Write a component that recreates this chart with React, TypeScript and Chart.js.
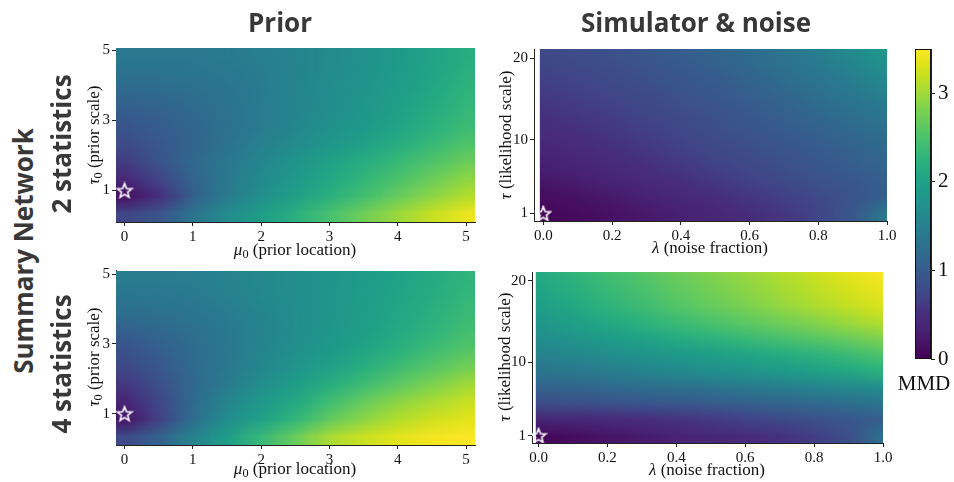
import React, { useEffect, useRef } from "react";
import { Chart, registerables } from "chart.js";

Chart.register(...registerables);

// ---------------- data ----------------
const priorMu0 = [0, 0.5, 1, 1.5, 2, 2.5, 3, 3.5, 4, 4.5, 5];
const priorTau0 = [4.85, 4.35, 3.85, 3.35, 2.85, 2.35, 1.85, 1.35, 0.85, 0.35];
const noiseLambda = [0, 0.1, 0.2, 0.3, 0.4, 0.5, 0.6, 0.7, 0.8, 0.9, 1.0];
const likelihoodTau = [21, 19, 17, 15, 13, 11, 9, 7, 5, 3, 1];

// rows follow priorTau0 (top to bottom), columns follow priorMu0
const mmdPrior2Stats = [
  [1.42, 1.40, 1.40, 1.44, 1.50, 1.57, 1.66, 1.77, 1.90, 2.04, 2.18],
  [1.30, 1.32, 1.35, 1.40, 1.47, 1.56, 1.67, 1.78, 1.92, 2.06, 2.22],
  [1.18, 1.20, 1.27, 1.36, 1.46, 1.57, 1.69, 1.81, 1.95, 2.10, 2.27],
  [1.05, 1.10, 1.20, 1.32, 1.45, 1.58, 1.71, 1.85, 2.00, 2.16, 2.32],
  [0.92, 1.02, 1.15, 1.30, 1.45, 1.60, 1.75, 1.90, 2.05, 2.22, 2.38],
  [0.80, 0.95, 1.12, 1.32, 1.52, 1.68, 1.84, 2.00, 2.17, 2.35, 2.52],
  [0.65, 0.90, 1.18, 1.40, 1.60, 1.80, 2.00, 2.17, 2.35, 2.52, 2.70],
  [0.40, 0.72, 1.12, 1.42, 1.66, 1.88, 2.10, 2.30, 2.50, 2.70, 2.90],
  [0.15, 0.52, 1.08, 1.45, 1.74, 1.98, 2.22, 2.45, 2.68, 2.90, 3.10],
  [0.72, 0.92, 1.35, 1.68, 1.95, 2.22, 2.48, 2.74, 2.98, 3.20, 3.40],
];

const mmdPrior4Stats = [
  [1.45, 1.45, 1.48, 1.55, 1.63, 1.72, 1.82, 1.92, 2.03, 2.15, 2.28],
  [1.35, 1.38, 1.43, 1.52, 1.62, 1.72, 1.83, 1.94, 2.06, 2.18, 2.32],
  [1.22, 1.27, 1.35, 1.46, 1.58, 1.70, 1.82, 1.95, 2.08, 2.22, 2.37],
  [1.05, 1.15, 1.28, 1.42, 1.56, 1.70, 1.84, 1.98, 2.13, 2.28, 2.44],
  [0.88, 1.05, 1.22, 1.40, 1.57, 1.73, 1.90, 2.06, 2.22, 2.40, 2.56],
  [0.75, 0.95, 1.20, 1.42, 1.62, 1.82, 2.00, 2.20, 2.40, 2.58, 2.75],
  [0.60, 0.85, 1.18, 1.45, 1.72, 1.95, 2.18, 2.40, 2.62, 2.82, 3.00],
  [0.35, 0.75, 1.20, 1.58, 1.88, 2.12, 2.42, 2.68, 2.90, 3.05, 3.20],
  [0.20, 0.68, 1.25, 1.70, 2.00, 2.30, 2.65, 2.90, 3.10, 3.25, 3.35],
  [0.78, 1.10, 1.55, 1.95, 2.35, 2.70, 3.05, 3.22, 3.35, 3.45, 3.50],
];

// rows follow likelihoodTau (top to bottom), columns follow noiseLambda
const mmdSim2Stats = [
  [0.78, 0.82, 0.88, 0.95, 1.03, 1.12, 1.22, 1.35, 1.50, 1.68, 1.88],
  [0.72, 0.77, 0.83, 0.90, 0.98, 1.07, 1.17, 1.29, 1.43, 1.58, 1.75],
  [0.66, 0.71, 0.77, 0.84, 0.92, 1.00, 1.10, 1.21, 1.33, 1.47, 1.62],
  [0.60, 0.65, 0.71, 0.78, 0.86, 0.94, 1.03, 1.13, 1.24, 1.36, 1.50],
  [0.54, 0.59, 0.65, 0.72, 0.80, 0.88, 0.97, 1.06, 1.16, 1.27, 1.39],
  [0.47, 0.53, 0.59, 0.66, 0.74, 0.82, 0.90, 0.99, 1.08, 1.18, 1.28],
  [0.40, 0.46, 0.53, 0.60, 0.68, 0.76, 0.84, 0.92, 1.01, 1.10, 1.19],
  [0.32, 0.38, 0.45, 0.53, 0.61, 0.69, 0.77, 0.85, 0.94, 1.03, 1.12],
  [0.22, 0.28, 0.36, 0.44, 0.52, 0.60, 0.68, 0.77, 0.86, 0.96, 1.06],
  [0.12, 0.18, 0.25, 0.33, 0.41, 0.49, 0.58, 0.67, 0.77, 0.90, 1.08],
  [0.05, 0.10, 0.17, 0.24, 0.32, 0.40, 0.49, 0.59, 0.72, 0.95, 1.45],
];

const mmdSim4Stats = [
  [2.12, 2.27, 2.42, 2.56, 2.70, 2.83, 2.96, 3.09, 3.22, 3.35, 3.48],
  [2.05, 2.20, 2.35, 2.49, 2.63, 2.76, 2.89, 3.02, 3.15, 3.28, 3.40],
  [1.97, 2.12, 2.27, 2.41, 2.55, 2.68, 2.81, 2.94, 3.07, 3.19, 3.31],
  [1.85, 1.99, 2.12, 2.25, 2.38, 2.50, 2.62, 2.74, 2.86, 2.99, 3.12],
  [1.70, 1.81, 1.92, 2.03, 2.14, 2.25, 2.36, 2.47, 2.58, 2.70, 2.83],
  [1.55, 1.62, 1.70, 1.79, 1.88, 1.97, 2.06, 2.16, 2.26, 2.38, 2.52],
  [1.35, 1.41, 1.48, 1.56, 1.65, 1.73, 1.82, 1.91, 2.00, 2.12, 2.25],
  [1.10, 1.13, 1.17, 1.22, 1.27, 1.34, 1.42, 1.48, 1.55, 1.63, 1.72],
  [0.80, 0.84, 0.88, 0.92, 0.96, 1.00, 1.06, 1.12, 1.18, 1.25, 1.35],
  [0.38, 0.41, 0.45, 0.50, 0.56, 0.62, 0.70, 0.78, 0.86, 0.94, 1.05],
  [0.05, 0.12, 0.20, 0.27, 0.34, 0.40, 0.46, 0.54, 0.65, 0.85, 1.30],
];

const trueParamPrior = [{ x: 0, y: 1 }];
const trueParamSim = [{ x: 0, y: 1 }];

const priorXTicks = [0, 1, 2, 3, 4, 5];
const priorYTicks = [1, 3, 5];
const simXTicks = [0, 0.2, 0.4, 0.6, 0.8, 1.0];
const simYTicks = [1, 10, 20];
const mmdTicks = [0, 1, 2, 3];
const MMD_MIN = 0;
const MMD_MAX = 3.5;

// ---------------- colour map ----------------
const VIRIDIS = [
  "#440154", "#471365", "#482475", "#472f7d", "#414487", "#3b528b", "#355f8d",
  "#2e6d8e", "#2a788e", "#25858e", "#21918c", "#1e9c89", "#22a884", "#2fb47c",
  "#44bf70", "#5ec962", "#7ad151", "#9bd93c", "#bddf26", "#dfe318", "#fde725",
];
const hexToRgb = (h: string) => [
  parseInt(h.slice(1, 3), 16),
  parseInt(h.slice(3, 5), 16),
  parseInt(h.slice(5, 7), 16),
];
const VIR_RGB = VIRIDIS.map(hexToRgb);
function viridisRgb(t: number) {
  const tt = Math.max(0, Math.min(1, t));
  const f = tt * (VIR_RGB.length - 1);
  const i = Math.min(VIR_RGB.length - 2, Math.floor(f));
  const u = f - i;
  const a = VIR_RGB[i];
  const b = VIR_RGB[i + 1];
  return a.map((v, k) => Math.round(v + (b[k] - v) * u));
}

// ---------------- layout ----------------
const SERIF = '"Liberation Serif", "DejaVu Serif", "Times New Roman", serif';
const SANS = '"Open Sans", "Noto Sans", "DejaVu Sans", sans-serif';
const AXIS_COLOR = "#222";

type PanelCfg = {
  key: string;
  xs: number[];
  ys: number[];
  z: number[][];
  star: { x: number; y: number }[];
  xTicks: number[];
  yTicks: number[];
  xFmt: (v: number) => string;
  box: { l: number; t: number; r: number; b: number };
  xr: [number, number];
  yr: [number, number];
  heatX0: number;
};

const PANELS: PanelCfg[] = [
  {
    key: "prior2", xs: priorMu0, ys: priorTau0, z: mmdPrior2Stats, star: trueParamPrior,
    xTicks: priorXTicks, yTicks: priorYTicks, xFmt: (v) => String(v),
    box: { l: 116, t: 48, r: 475, b: 222 }, xr: [-0.125, 5.13], yr: [0.1, 5.07], heatX0: -0.125,
  },
  {
    key: "sim2", xs: noiseLambda, ys: likelihoodTau, z: mmdSim2Stats, star: trueParamSim,
    xTicks: simXTicks, yTicks: simYTicks, xFmt: (v) => v.toFixed(1),
    box: { l: 534, t: 49, r: 887, b: 221 }, xr: [-0.027, 1.0], yr: [0.09, 21.1], heatX0: -0.01,
  },
  {
    key: "prior4", xs: priorMu0, ys: priorTau0, z: mmdPrior4Stats, star: trueParamPrior,
    xTicks: priorXTicks, yTicks: priorYTicks, xFmt: (v) => String(v),
    box: { l: 116, t: 270, r: 475, b: 445 }, xr: [-0.125, 5.13], yr: [0.1, 5.12], heatX0: -0.125,
  },
  {
    key: "sim4", xs: noiseLambda, ys: likelihoodTau, z: mmdSim4Stats, star: trueParamSim,
    xTicks: simXTicks, yTicks: simYTicks, xFmt: (v) => v.toFixed(1),
    box: { l: 532, t: 272, r: 883, b: 443 }, xr: [-0.019, 1.0], yr: [0.1, 21.07], heatX0: -0.008,
  },
];

const WY = 44;
const HX = 26;
const PT = 12;
const PR = 16;

function makeStar() {
  const c = document.createElement("canvas");
  c.width = 18;
  c.height = 18;
  const g = c.getContext("2d")!;
  g.strokeStyle = "#ffffff";
  g.lineWidth = 1.6;
  g.lineJoin = "miter";
  g.beginPath();
  for (let i = 0; i < 10; i++) {
    const r = i % 2 === 0 ? 7.6 : 3.3;
    const a = -Math.PI / 2 + (i * Math.PI) / 5;
    const x = 9 + r * Math.cos(a);
    const y = 9.6 + r * Math.sin(a);
    if (i === 0) g.moveTo(x, y);
    else g.lineTo(x, y);
  }
  g.closePath();
  g.stroke();
  return c;
}

// heat cells: one texel per value, placed with the chart's scales and drawn with
// bilinear image smoothing (like imshow's interpolation)
function heatPlugin(cfg: PanelCfg) {
  return {
    id: "heat_" + cfg.key,
    beforeDatasetsDraw(chart: any) {
      const { ctx, chartArea: ca, scales } = chart;
      const sx = scales.x;
      const sy = scales.y;
      const rows = cfg.z.length;
      const cols = cfg.z[0].length;
      const off = document.createElement("canvas");
      off.width = cols;
      off.height = rows;
      const g = off.getContext("2d")!;
      const img = g.createImageData(cols, rows);
      cfg.z.forEach((row, ri) =>
        row.forEach((v, ci) => {
          const c = viridisRgb((v - MMD_MIN) / (MMD_MAX - MMD_MIN));
          const k = (ri * cols + ci) * 4;
          img.data[k] = c[0];
          img.data[k + 1] = c[1];
          img.data[k + 2] = c[2];
          img.data[k + 3] = 255;
        })
      );
      g.putImageData(img, 0, 0);
      const dx = Math.abs(cfg.xs[1] - cfg.xs[0]);
      const dy = Math.abs(cfg.ys[1] - cfg.ys[0]);
      const x0 = sx.getPixelForValue(cfg.xs[0] - dx / 2);
      const x1 = sx.getPixelForValue(cfg.xs[cols - 1] + dx / 2);
      const y0 = sy.getPixelForValue(cfg.ys[0] + dy / 2);
      const y1 = sy.getPixelForValue(cfg.ys[rows - 1] - dy / 2);
      const clipL = Math.max(ca.left, sx.getPixelForValue(cfg.heatX0));
      ctx.save();
      ctx.beginPath();
      ctx.rect(clipL, ca.top, ca.right - clipL, ca.bottom - ca.top);
      ctx.clip();
      ctx.imageSmoothingEnabled = true;
      ctx.imageSmoothingQuality = "low";
      ctx.drawImage(off, x0, y0, x1 - x0, y1 - y0);
      ctx.restore();
    },
  };
}

function axisCommon(ticks: number[], fmt: (v: number) => string, fixSize: (s: any) => void) {
  return {
    type: "linear" as const,
    z: 1,
    afterBuildTicks: (s: any) => {
      s.ticks = ticks.map((value) => ({ value }));
    },
    afterFit: (s: any) => {
      fixSize(s);
      s.paddingLeft = 0;
      s.paddingRight = 0;
      s.paddingTop = 0;
      s.paddingBottom = 0;
    },
    ticks: {
      callback: (v: any) => fmt(Number(v)),
      font: { family: SERIF, size: 15 },
      color: "#111",
      autoSkip: false,
      maxRotation: 0,
      minRotation: 0,
      padding: 2,
    },
    grid: { drawOnChartArea: false, drawTicks: true, tickLength: 4, color: AXIS_COLOR, lineWidth: 1 },
    border: { display: true, color: AXIS_COLOR, width: 1 },
  };
}

function HeatPanel({ cfg }: { cfg: PanelCfg }) {
  const ref = useRef<HTMLCanvasElement>(null);
  const { l, t, r, b } = cfg.box;
  const cw = WY + (r - l) + PR;
  const ch = PT + (b - t) + HX;
  useEffect(() => {
    const chart = new Chart(ref.current!, {
      type: "scatter",
      data: {
        datasets: [
          {
            data: cfg.star,
            pointStyle: makeStar() as any,
            pointRadius: 9,
            pointHoverRadius: 9,
          },
        ],
      },
      options: {
        animation: false,
        responsive: false,
        devicePixelRatio: 1,
        events: [],
        layout: { padding: { top: PT, right: PR, left: 0, bottom: 0 } },
        plugins: { legend: { display: false }, tooltip: { enabled: false } },
        scales: {
          x: {
            ...axisCommon(cfg.xTicks, cfg.xFmt, (s) => (s.height = HX)),
            min: cfg.xr[0],
            max: cfg.xr[1],
          },
          y: {
            ...axisCommon(cfg.yTicks, (v) => String(v), (s) => (s.width = WY)),
            min: cfg.yr[0],
            max: cfg.yr[1],
          },
        },
      } as any,
      plugins: [heatPlugin(cfg)],
    });
    return () => chart.destroy();
  }, []);
  return (
    <canvas
      ref={ref}
      width={cw}
      height={ch}
      style={{ position: "absolute", left: l - WY, top: t - PT, width: cw, height: ch }}
    />
  );
}

function Colorbar() {
  const ref = useRef<HTMLCanvasElement>(null);
  const L = 915, T = 49, R = 931, B = 359;
  const PL = 10, AW = 34, PTB = 14;
  const cw = PL + (R - L) + AW;
  const ch = PTB + (B - T) + PTB;
  useEffect(() => {
    const chart = new Chart(ref.current!, {
      type: "scatter",
      data: { datasets: [] },
      options: {
        animation: false,
        responsive: false,
        devicePixelRatio: 1,
        events: [],
        layout: { padding: { top: PTB, bottom: PTB, left: PL, right: 0 } },
        plugins: { legend: { display: false }, tooltip: { enabled: false } },
        scales: {
          x: { display: false, min: 0, max: 1 },
          y: {
            position: "right",
            min: MMD_MIN,
            max: MMD_MAX,
            z: 1,
            afterBuildTicks: (s: any) => {
              s.ticks = mmdTicks.map((value) => ({ value }));
            },
            afterFit: (s: any) => {
              s.width = AW;
              s.paddingTop = 0;
              s.paddingBottom = 0;
            },
            ticks: {
              font: { family: SERIF, size: 21 },
              color: "#111",
              padding: 3,
              callback: (v: any) => String(v),
            },
            grid: { drawOnChartArea: false, drawTicks: true, tickLength: 4, color: AXIS_COLOR },
            border: { display: true, color: AXIS_COLOR },
          },
        },
      } as any,
      plugins: [
        {
          id: "cbar",
          beforeDatasetsDraw(c: any) {
            const { ctx, chartArea: ca, scales } = c;
            const y0 = scales.y.getPixelForValue(MMD_MIN);
            const y1 = scales.y.getPixelForValue(MMD_MAX);
            const g = ctx.createLinearGradient(0, y0, 0, y1);
            VIRIDIS.forEach((col, i) => g.addColorStop(i / (VIRIDIS.length - 1), col));
            ctx.save();
            ctx.fillStyle = g;
            ctx.fillRect(ca.left, ca.top, ca.right - ca.left, ca.bottom - ca.top);
            ctx.strokeStyle = "#111";
            ctx.lineWidth = 1;
            ctx.strokeRect(ca.left + 0.5, ca.top + 0.5, ca.right - ca.left - 1, ca.bottom - ca.top - 1);
            ctx.restore();
          },
        },
      ],
    });
    return () => chart.destroy();
  }, []);
  return (
    <canvas
      ref={ref}
      width={cw}
      height={ch}
      style={{ position: "absolute", left: L - PL, top: T - PTB, width: cw, height: ch }}
    />
  );
}

function Label({
  x, y, children, rotate = false, font, size, weight = 400, color = "#111",
}: any) {
  return (
    <div
      style={{
        position: "absolute",
        left: x,
        top: y,
        transform: `translate(-50%, -50%)${rotate ? " rotate(-90deg)" : ""}`,
        whiteSpace: "nowrap",
        fontFamily: font,
        fontSize: size,
        fontWeight: weight,
        color,
        lineHeight: 1,
      }}
    >
      {children}
    </div>
  );
}

const Sub = ({ children }: any) => (
  <span style={{ fontSize: "0.72em", position: "relative", top: "0.28em" }}>{children}</span>
);

export default function App() {
  const serifLabel = { font: SERIF, size: 17 };
  const sansTitle = { font: SANS, size: 26, weight: 700, color: "#383838" };
  return (
    <div
      style={{
        position: "absolute",
        left: 0,
        top: 0,
        width: 954,
        height: 482,
        background: "#fff",
        overflow: "hidden",
      }}
    >
      {PANELS.map((p) => (
        <HeatPanel key={p.key} cfg={p} />
      ))}
      <Colorbar />

      <Label x={280} y={22} {...sansTitle}>Prior</Label>
      <Label x={696} y={22} {...sansTitle}>Simulator &amp; noise</Label>
      <Label x={23} y={251} rotate {...sansTitle}>Summary Network</Label>
      <Label x={61} y={144} rotate {...sansTitle}>2 statistics</Label>
      <Label x={61} y={364} rotate {...sansTitle}>4 statistics</Label>

      <Label x={295} y={249} {...serifLabel}><i>μ</i><Sub>0</Sub> (prior location)</Label>
      <Label x={295} y={468} {...serifLabel}><i>μ</i><Sub>0</Sub> (prior location)</Label>
      <Label x={710} y={247} {...serifLabel}><i>λ</i> (noise fraction)</Label>
      <Label x={707} y={469} {...serifLabel}><i>λ</i> (noise fraction)</Label>

      <Label x={93} y={135} rotate {...serifLabel}><i>τ</i><Sub>0</Sub> (prior scale)</Label>
      <Label x={93} y={357} rotate {...serifLabel}><i>τ</i><Sub>0</Sub> (prior scale)</Label>
      <Label x={505} y={135} rotate {...serifLabel}><i>τ</i> (likelihood scale)</Label>
      <Label x={504} y={357} rotate {...serifLabel}><i>τ</i> (likelihood scale)</Label>

      <Label x={924} y={383} font={SERIF} size={21}>MMD</Label>
    </div>
  );
}
